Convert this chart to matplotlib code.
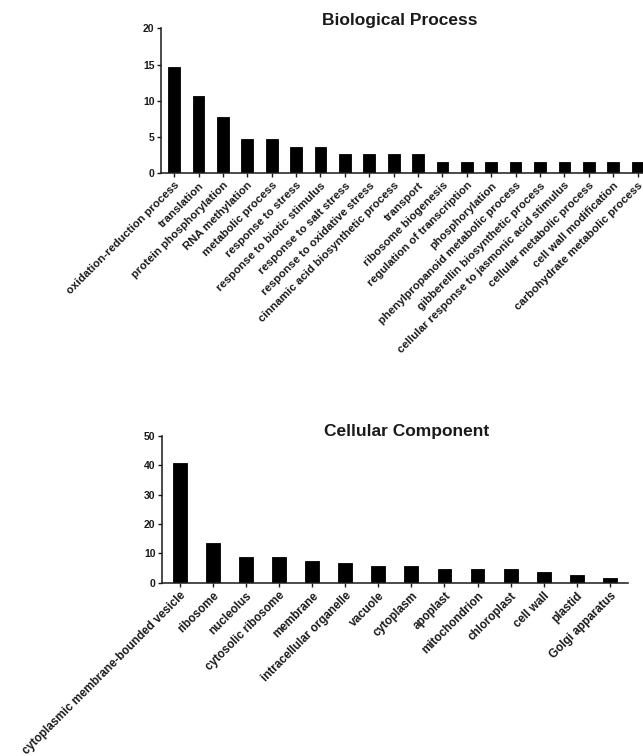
import matplotlib
matplotlib.use("Agg")
import matplotlib.pyplot as plt

plt.rcParams['font.family'] = ['Liberation Sans', 'DejaVu Sans']

bp_terms = [
    "oxidation-reduction process", "translation", "protein phosphorylation",
    "RNA methylation", "metabolic process", "response to stress",
    "response to biotic stimulus", "response to salt stress",
    "response to oxidative stress", "cinnamic acid biosynthetic process",
    "transport", "ribosome biogenesis", "regulation of transcription",
    "phosphorylation", "phenylpropanoid metabolic process",
    "gibberellin biosynthetic process",
    "cellular response to jasmonic acid stimulus",
    "cellular metabolic process", "cell wall modification",
    "carbohydrate metabolic process",
]
bp_values = [14.7, 10.7, 7.7, 4.7, 4.7, 3.6, 3.6, 2.6, 2.6, 2.6, 2.6,
             1.6, 1.6, 1.6, 1.6, 1.6, 1.6, 1.6, 1.6, 1.6]
bp_yticks = [0, 5, 10, 15, 20]

cc_terms = [
    "cytoplasmic membrane-bounded vesicle", "ribosome", "nucleolus",
    "cytosolic ribosome", "membrane", "intracellular organelle", "vacuole",
    "cytoplasm", "apoplast", "mitochondrion", "chloroplast", "cell wall",
    "plastid", "Golgi apparatus",
]
cc_values = [40.6, 13.6, 8.6, 8.6, 7.5, 6.6, 5.6, 5.6, 4.5, 4.5, 4.5,
             3.5, 2.6, 1.6]
cc_yticks = [0, 10, 20, 30, 40, 50]

W, H = 643, 756
fig = plt.figure(figsize=(W / 100, H / 100), dpi=100)

ink = "#1a1a1a"


def panel(rect, terms, values, yticks, bar_w, title, title_xy, label_size):
    ax = fig.add_axes(rect)
    x = list(range(len(terms)))
    ax.bar(x, values, width=bar_w, color="black", edgecolor="black",
           linewidth=0.6)
    ax.set_xlim(-0.55, len(terms) - 0.45)
    ax.set_ylim(yticks[0], yticks[-1])
    ax.set_yticks(yticks)
    ax.set_xticks(x)
    ax.set_xticklabels(terms, rotation=45, ha="right", va="top",
                       rotation_mode="anchor", fontsize=label_size,
                       fontweight="bold", color=ink)
    for lbl in ax.get_yticklabels():
        lbl.set_fontsize(7.5)
        lbl.set_fontweight("bold")
        lbl.set_color(ink)
    for side in ("top", "right"):
        ax.spines[side].set_visible(False)
    for side in ("left", "bottom"):
        ax.spines[side].set_linewidth(1.1)
        ax.spines[side].set_color(ink)
    ax.tick_params(axis="both", direction="out", length=3, width=1.0,
                   color=ink, pad=1.5)
    ax.tick_params(axis="x", pad=2)
    fig.text(title_xy[0], title_xy[1], title, ha="center", va="center",
             fontsize=12.5, fontweight="bold", color=ink)
    return ax


panel([160.7 / W, 1 - 173.3 / H, 490.3 / W, 145 / H],
      bp_terms, bp_values, bp_yticks, 0.48, "Biological Process",
      (400 / W, 1 - 20 / H), 8.2)
panel([161.7 / W, 1 - 582.7 / H, 466.3 / W, 147 / H],
      cc_terms, cc_values, cc_yticks, 0.42, "Cellular Component",
      (406.7 / W, 1 - 431.7 / H), 8.4)

fig.savefig("out.png", dpi=100)
